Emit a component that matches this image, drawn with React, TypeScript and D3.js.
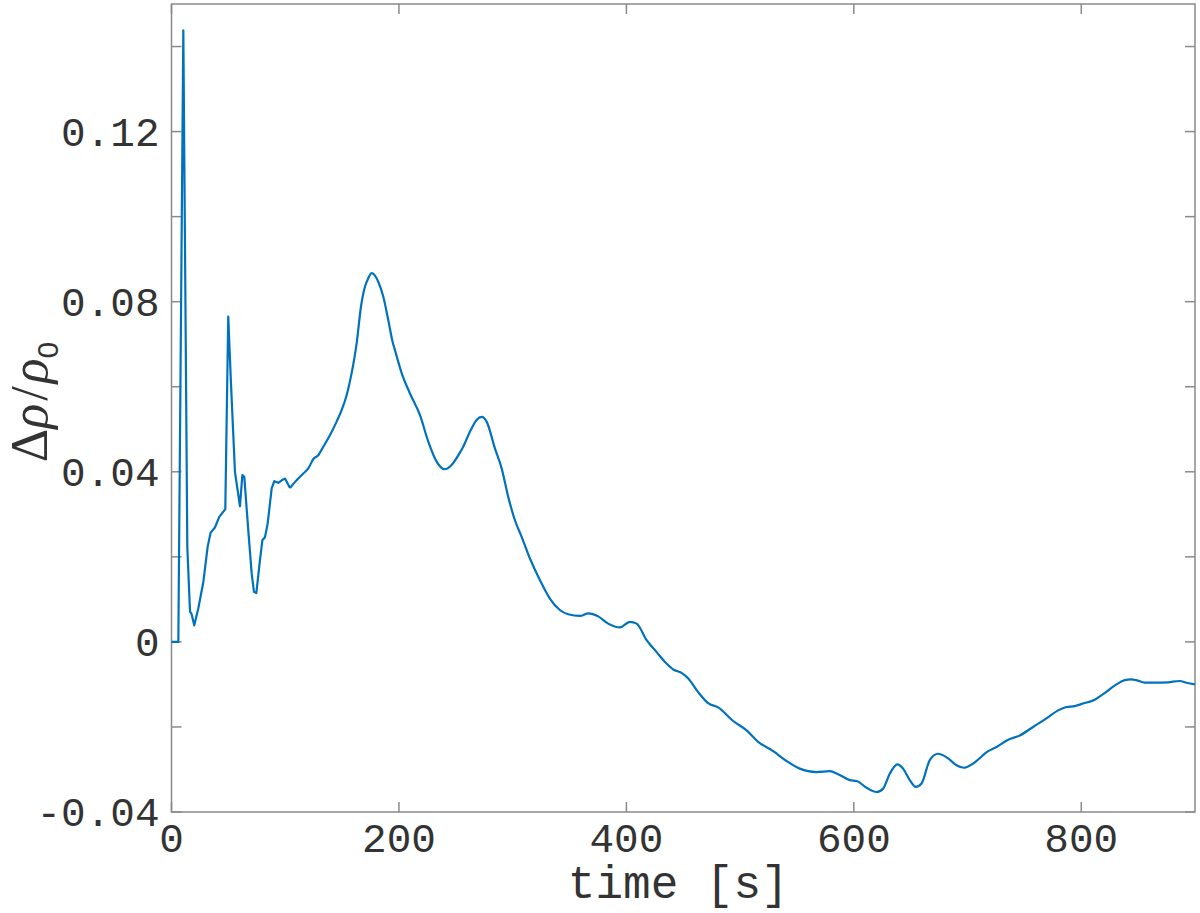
import React from "react";
import * as d3 from "d3";

// time [s] and density perturbation
const timeS = [
  0, 6, 10.4, 13.9, 16.3, 17.6, 20, 23.6, 28, 31.8, 34.4, 38.2, 42, 47, 47.3, 49.9,
  52.3, 55.8, 60.2, 62.3, 64, 67.5, 70.5, 72.5, 74.6, 77.8, 79.9, 82.2, 84.6, 88.1,
  90.4, 93.9, 96.9, 99.8, 104.2, 110, 115.9, 120.3, 124.7, 129.1, 133.5, 139.3, 145.2,
  149.6, 154, 158.4, 162.8, 166.6, 170.1, 173, 176, 181.8, 186.2, 190.6, 194.4, 196.5,
  202.4, 209.7, 218.5, 225.8, 233.1, 240.4, 246.3, 253.6, 256.5, 262.4, 268.3, 272.7,
  277.1, 284.4, 290.3, 296.1, 302, 307.9, 315.2, 324, 332.7, 341.5, 348.8, 359.1, 366.4,
  375.2, 384, 394.3, 403.1, 409, 417.8, 426.6, 435.3, 441.2, 448.5, 454.4, 463.1, 471.9,
  480.7, 493.9, 505.7, 515.9, 529.1, 540.8, 552.5, 559.8, 567.2, 578.9, 586.2, 596.5,
  602.4, 611.2, 620, 625.8, 631.6, 638.4, 643.3, 649.2, 654.5, 659.5, 666.8, 674.1,
  682.9, 690.3, 696.7, 704.9, 718.1, 725.5, 735.7, 745.9, 757.6, 769.4, 779.6, 787,
  794.3, 801.6, 811.9, 819.2, 830.9, 838.2, 844.1, 848.5, 855.8, 866.1, 876.3, 886.6,
  892.5, 900,
];
const drho = [
  0, 0, 0.1438, 0.0223, 0.0071, 0.0066, 0.0039, 0.0079, 0.0141, 0.0224, 0.0257, 0.0269,
  0.0294, 0.0311, 0.0312, 0.0765, 0.0608, 0.04, 0.0319, 0.0392, 0.0388, 0.0263, 0.0161,
  0.0118, 0.0115, 0.0192, 0.0239, 0.0246, 0.0279, 0.0361, 0.0378, 0.0374, 0.038, 0.0384,
  0.0362, 0.038, 0.0396, 0.0408, 0.043, 0.0439, 0.0459, 0.0486, 0.0518, 0.0545, 0.058,
  0.0632, 0.0702, 0.0788, 0.0835, 0.0855, 0.0867, 0.0847, 0.0812, 0.0757, 0.0706, 0.0686,
  0.0632, 0.0584, 0.0533, 0.0471, 0.0424, 0.0406, 0.0416, 0.0445, 0.0459, 0.0494, 0.0522,
  0.0529, 0.0518, 0.0455, 0.0408, 0.0341, 0.0286, 0.0247, 0.0196, 0.0145, 0.0102, 0.0075,
  0.0065, 0.0061, 0.0067, 0.006, 0.0043, 0.0034, 0.0047, 0.0043, 0.0004, -0.0024, -0.0051,
  -0.0065, -0.0073, -0.0086, -0.0118, -0.0144, -0.0154, -0.0186, -0.0208, -0.0235,
  -0.0257, -0.028, -0.0298, -0.0304, -0.0306, -0.0304, -0.0311, -0.0325, -0.0327,
  -0.0343, -0.0353, -0.0345, -0.031, -0.0288, -0.0298, -0.0325, -0.0341, -0.0333,
  -0.0278, -0.0263, -0.0274, -0.029, -0.0296, -0.0286, -0.0257, -0.0247, -0.023, -0.022,
  -0.02, -0.018, -0.0161, -0.0153, -0.0151, -0.0145, -0.0136, -0.0123, -0.01, -0.009,
  -0.0088, -0.009, -0.0096, -0.0096, -0.0095, -0.0092, -0.0096, -0.01,
];

const xTicks = [0, 200, 400, 600, 800];
const yTicks = [-0.04, -0.02, 0, 0.02, 0.04, 0.06, 0.08, 0.1, 0.12, 0.14];
const yLabels = ["-0.04", "0", "0.04", "0.08", "0.12"];

const W = 1200;
const H = 913;
const margin = { top: 4, right: 5, bottom: 101, left: 171.5 };
const tickLen = 10;
const axisColor = "#8a8a8a";
const textColor = "#333333";
const monoFont = "'Liberation Mono', 'DejaVu Sans Mono', monospace";
const spikyUntil = 104.2; // early part is jagged, the rest is smooth

export default function App() {
  const x = d3.scaleLinear().domain([0, 900]).range([margin.left, W - margin.right]);
  const y = d3.scaleLinear().domain([-0.04, 0.15]).range([H - margin.bottom, margin.top]);

  const pts = timeS.map((t, i) => [t, drho[i]] as [number, number]);
  const early = pts.filter((d) => d[0] <= spikyUntil);
  const late = pts.filter((d) => d[0] >= spikyUntil);

  const lineLin = d3
    .line<[number, number]>()
    .x((d) => x(d[0]))
    .y((d) => y(d[1]))
    .curve(d3.curveLinear);
  const lineSmooth = d3
    .line<[number, number]>()
    .x((d) => x(d[0]))
    .y((d) => y(d[1]))
    .curve(d3.curveMonotoneX);

  const x0 = x(0);
  const x1 = x(900);
  const yb = y(-0.04);
  const yt = y(0.15);

  return (
    <svg
      width={W}
      height={H}
      style={{ position: "absolute", left: 0, top: 0, background: "#fff" }}
    >
      {/* frame */}
      <rect
        x={x0}
        y={yt}
        width={x1 - x0}
        height={yb - yt}
        fill="none"
        stroke={axisColor}
        strokeWidth={1.5}
      />

      {/* x ticks, bottom and top */}
      {xTicks.map((t) => (
        <g key={"xt" + t}>
          <line x1={x(t)} x2={x(t)} y1={yb} y2={yb - tickLen} stroke={axisColor} strokeWidth={1.5} />
          <line x1={x(t)} x2={x(t)} y1={yt} y2={yt + tickLen} stroke={axisColor} strokeWidth={1.5} />
          <text
            x={x(t)}
            y={yb + 40}
            textAnchor="middle"
            fontFamily={monoFont}
            fontSize={41}
            fill={textColor}
          >
            {t}
          </text>
        </g>
      ))}

      {/* y ticks, left and right */}
      {yTicks.map((v) => (
        <g key={"yt" + v}>
          <line x1={x0} x2={x0 + tickLen} y1={y(v)} y2={y(v)} stroke={axisColor} strokeWidth={1.5} />
          <line x1={x1} x2={x1 - tickLen} y1={y(v)} y2={y(v)} stroke={axisColor} strokeWidth={1.5} />
        </g>
      ))}
      {yLabels.map((s) => (
        <text
          key={"yl" + s}
          x={x0 - 12}
          y={y(+s)}
          dy="0.35em"
          textAnchor="end"
          fontFamily={monoFont}
          fontSize={41}
          fill={textColor}
        >
          {s}
        </text>
      ))}

      {/* data line */}
      <path d={lineLin(early) ?? ""} fill="none" stroke="#0072BD" strokeWidth={2.2} strokeLinejoin="round" />
      <path d={lineSmooth(late) ?? ""} fill="none" stroke="#0072BD" strokeWidth={2.2} strokeLinejoin="round" />

      {/* axis labels */}
      <text
        x={(x0 + x1) / 2 - 5}
        y={898}
        textAnchor="middle"
        fontFamily={monoFont}
        fontSize={46}
        fill={textColor}
      >
        time [s]
      </text>
      <text
        transform="translate(47,402) rotate(-90)"
        textAnchor="middle"
        fontFamily="'Liberation Serif', serif"
        fontSize={52}
        fill={textColor}
      >
        <tspan>Δ</tspan>
        <tspan fontStyle="italic">ρ</tspan>
        <tspan dx={3}>/</tspan>
        <tspan fontStyle="italic" dx={3}>ρ</tspan>
        <tspan fontSize={30} dy={11} fontFamily="'Liberation Sans', sans-serif">0</tspan>
      </text>
    </svg>
  );
}
